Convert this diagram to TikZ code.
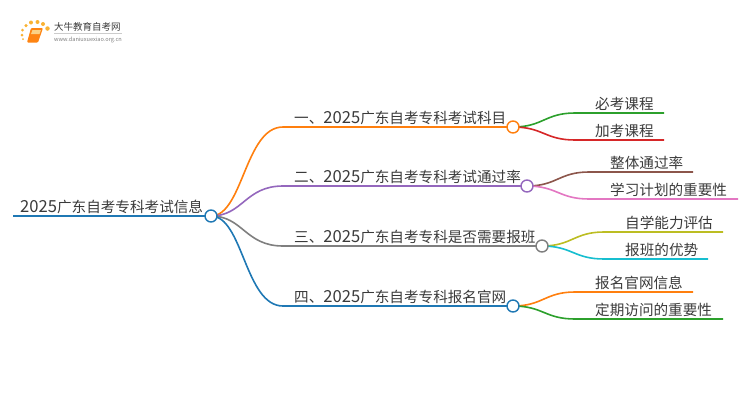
\documentclass[tikz,border=0pt]{standalone}
\usepackage{fontspec}
\setmainfont{Noto Sans CJK SC}
\usetikzlibrary{positioning,calc}
\definecolor{Ink}{HTML}{3A3A3A}
\definecolor{RootBlue}{HTML}{1F78B4}
\definecolor{Orange}{HTML}{FF7F0E}
\definecolor{Purple}{HTML}{9467BD}
\definecolor{Grey}{HTML}{7F7F7F}
\definecolor{Green}{HTML}{2CA02C}
\definecolor{Red}{HTML}{D62728}
\definecolor{Brown}{HTML}{8C564B}
\definecolor{Pink}{HTML}{E377C2}
\definecolor{Olive}{HTML}{BCBD22}
\definecolor{Cyan}{HTML}{17BECF}
\definecolor{Gold}{HTML}{F9B233}
\newcommand{\yr}{{\fontsize{16.6pt}{15pt}\selectfont 2025}}

\begin{document}
\begin{tikzpicture}[
  x=1pt,y=-1pt,
  label/.style={font=\fontsize{14.6pt}{15pt}\selectfont,text=Ink,inner sep=0pt,anchor=base west},
  dot/.style={circle,draw=#1,fill=white,line width=1.4pt,minimum size=12pt,inner sep=0pt},
  main/.style={draw=#1,line width=1.6pt},
  leaf/.style={draw=#1,line width=1.6pt},
  spark/.style={circle,fill=Gold,inner sep=0pt,minimum size=#1}
]
\useasboundingbox (0,0) rectangle (750,410);
% logo
\node[spark=2pt] (s0) at (23,39) {};
\node[spark=3pt] (s1) at (22,35) {};
\node[spark=3pt] (s2) at (22.5,30) {};
\node[spark=3.5pt] (s3) at (26,25.5) {};
\node[spark=4pt] (s4) at (31,22.5) {};
\node[spark=4pt] (s5) at (37.5,22) {};
\node[spark=4pt] (s6) at (43,24) {};
\node[spark=4.5pt] (s7) at (47.5,28.5) {};
\fill[Orange!90!Gold,rounded corners=1pt] (31,28) -- (43,28) -- (38,42.5) -- (27,42.5) -- cycle;
\fill[Gold!60!white] (32.5,30) -- (41,30) -- (39.5,34) -- (31,34) -- cycle;
\node[font=\fontsize{9.5pt}{10pt}\selectfont,text=Ink,inner sep=0pt,anchor=base west] (brand) at (54,30.5) {大牛教育自考网};
\node[font=\fontsize{5.6pt}{6pt}\selectfont,text=Grey,inner sep=0pt,anchor=base west] (site) at (54,41) {www.daniuxuexiao.org.cn};
\draw[Grey!40,line width=0.5pt] (54,33.5) -- (122,33.5);
% texts
\node[label] (root) at (20,212) {\yr 广东自考专科考试信息};
\node[label] (m1) at (294,123) {一、\yr 广东自考专科考试科目};
\node[label] (m2) at (294,182) {二、\yr 广东自考专科考试通过率};
\node[label] (m3) at (294,242) {三、\yr 广东自考专科是否需要报班};
\node[label] (m4) at (294,302) {四、\yr 广东自考专科报名官网};
\node[label] (l1) at (595,109) {必考课程};
\node[label] (l2) at (595,136) {加考课程};
\node[label] (l3) at (610,168) {整体通过率};
\node[label] (l4) at (610,195) {学习计划的重要性};
\node[label] (l5) at (625,228) {自学能力评估};
\node[label] (l6) at (625,255) {报班的优势};
\node[label] (l7) at (595,288) {报名官网信息};
\node[label] (l8) at (595,315) {定期访问的重要性};
% line ends
\coordinate (r0) at (13,216);
\coordinate (c0) at (211,216);
\coordinate (c1) at (513,127);
\coordinate (c2) at (527,186);
\coordinate (c3) at (542,246);
\coordinate (c4) at (513,306);
\coordinate (a1) at (283,127);
\coordinate (a2) at (283,186);
\coordinate (a3) at (283,246);
\coordinate (a4) at (283,306);
\coordinate (e1) at (664,113);
\coordinate (e2) at (664,140);
\coordinate (e3) at (693,172);
\coordinate (e4) at (738,199);
\coordinate (e5) at (723,232);
\coordinate (e6) at (708,259);
\coordinate (e7) at (693,292);
\coordinate (e8) at (723,319);
\draw[main=RootBlue,line width=2pt] (r0) -- (c0);
\foreach \a/\b/\c in {a1/c1/Orange,a2/c2/Purple,a3/c3/Grey,a4/c4/RootBlue} {
  \draw[main=\c] (c0) .. controls +(32,0) and ($(\a)+(-38,0)$) .. (\a) -- (\b);
}
\foreach \a/\b/\c in {c1/e1/Green,c1/e2/Red,c2/e3/Brown,c2/e4/Pink,c3/e5/Olive,c3/e6/Cyan,c4/e7/Orange,c4/e8/Green} {
  \draw[leaf=\c] (\a) .. controls +(30,0) and ($(\a |- \b)+(32,0)$) .. ($(\a |- \b)+(62,0)$) -- (\b);
}
\node[dot=RootBlue] (d0) at (c0) {};
\node[dot=Orange] (d1) at (c1) {};
\node[dot=Purple] (d2) at (c2) {};
\node[dot=Grey] (d3) at (c3) {};
\node[dot=RootBlue] (d4) at (c4) {};
\end{tikzpicture}
\end{document}
